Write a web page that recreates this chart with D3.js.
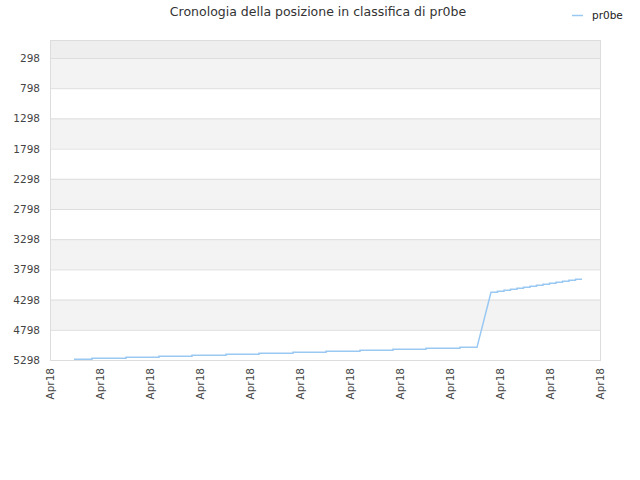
<!DOCTYPE html>
<html>
<head>
<meta charset="utf-8">
<script src="https://cdn.jsdelivr.net/npm/d3@7"></script>
<style>
  body { margin: 0; background: #fff; font-family: "DejaVu Sans", sans-serif; }
</style>
</head>
<body>
<div id="chart"></div>
<script>
const xTickLabels = ['Apr18', 'Apr18', 'Apr18', 'Apr18', 'Apr18', 'Apr18', 'Apr18', 'Apr18', 'Apr18', 'Apr18', 'Apr18', 'Apr18'];
const yTicks = [298, 798, 1298, 1798, 2298, 2798, 3298, 3798, 4298, 4798, 5298];
// position along x (in tick units) and rank
const seriesX = [0.48, 0.84, 0.84, 1.52, 1.52, 2.18, 2.18, 2.84, 2.84, 3.52, 3.52, 4.18, 4.18, 4.86, 4.86, 5.52, 5.52, 6.2, 6.2, 6.86, 6.86, 7.52, 7.52, 8.2, 8.2, 8.54,
  8.82, 8.95, 8.95, 9.08, 9.08, 9.21, 9.21, 9.34, 9.34, 9.47, 9.47, 9.6, 9.6, 9.73, 9.73, 9.86, 9.86, 9.99, 9.99, 10.12, 10.12, 10.25, 10.25, 10.38, 10.38, 10.51, 10.51, 10.64];
const seriesRank = [5287, 5287, 5270, 5270, 5254, 5254, 5237, 5237, 5221, 5221, 5204, 5204, 5188, 5188, 5171, 5171, 5155, 5155, 5138, 5138, 5121, 5121, 5105, 5105, 5088, 5088,
  4177, 4177, 4160, 4160, 4144, 4144, 4127, 4127, 4111, 4111, 4094, 4094, 4078, 4078, 4061, 4061, 4045, 4045, 4028, 4028, 4012, 4012, 3995, 3995, 3979, 3979, 3962, 3962];

const width = 640, height = 480;
const margin = { top: 40, right: 40, bottom: 120, left: 50 };

const svg = d3.select('#chart').append('svg')
  .attr('width', width).attr('height', height);

const x = d3.scaleLinear().domain([0, 11]).range([margin.left, width - margin.right]);
const y = d3.scaleLinear().domain([0, 5298]).range([margin.top, height - margin.bottom]);

// background bands
const bands = [[0, 298, '#eeeeee']];
for (let i = 0; i < yTicks.length - 1; i++) {
  bands.push([yTicks[i], yTicks[i + 1], i % 2 === 0 ? '#f3f3f3' : '#ffffff']);
}
svg.selectAll('rect.band').data(bands).join('rect')
  .attr('class', 'band')
  .attr('x', x(0)).attr('width', x(11) - x(0))
  .attr('y', d => y(d[0])).attr('height', d => y(d[1]) - y(d[0]))
  .attr('fill', d => d[2]);

svg.selectAll('line.grid').data(yTicks).join('line')
  .attr('class', 'grid')
  .attr('x1', x(0)).attr('x2', x(11))
  .attr('y1', d => y(d) + 0.5).attr('y2', d => y(d) + 0.5)
  .attr('stroke', '#dddddd');

svg.append('rect')
  .attr('x', x(0) + 0.5).attr('y', y(0) + 0.5)
  .attr('width', x(11) - x(0)).attr('height', y(5298) - y(0))
  .attr('fill', 'none').attr('stroke', '#dddddd');

// y axis labels
svg.selectAll('text.ytick').data(yTicks).join('text')
  .attr('class', 'ytick')
  .attr('x', x(0) - 10).attr('y', d => y(d) + 4)
  .attr('text-anchor', 'end')
  .attr('font-size', 10.5).attr('fill', '#444')
  .text(d => d);

// x axis labels, rotated
svg.selectAll('text.xtick').data(xTickLabels).join('text')
  .attr('class', 'xtick')
  .attr('transform', (d, i) => `translate(${x(i) + 4},${y(5298) + 8}) rotate(-90)`)
  .attr('text-anchor', 'end')
  .attr('font-size', 10.5).attr('fill', '#444')
  .text(d => d);

// series
const line = d3.line()
  .x((d, i) => x(seriesX[i]))
  .y(d => y(d));
svg.append('path')
  .attr('d', line(seriesRank))
  .attr('fill', 'none')
  .attr('stroke', '#99c8f2')
  .attr('stroke-width', 1.5);

// title
svg.append('text')
  .attr('x', 318).attr('y', 16)
  .attr('text-anchor', 'middle')
  .attr('font-size', 12.5).attr('fill', '#333')
  .text('Cronologia della posizione in classifica di pr0be');

// legend
svg.append('line')
  .attr('x1', 572).attr('x2', 583).attr('y1', 15.5).attr('y2', 15.5)
  .attr('stroke', '#99c8f2').attr('stroke-width', 1.5);
svg.append('text')
  .attr('x', 592).attr('y', 19)
  .attr('font-size', 10.5).attr('fill', '#222')
  .text('pr0be');
</script>
</body>
</html>
